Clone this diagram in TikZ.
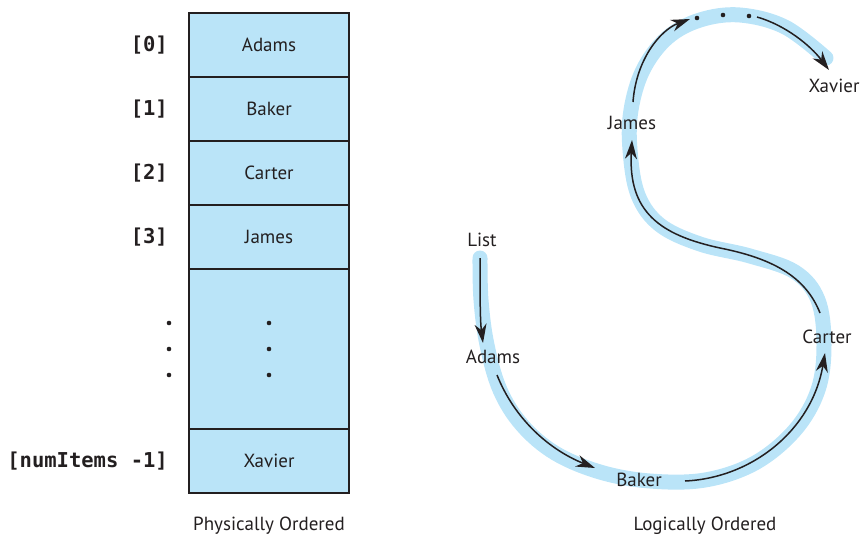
\documentclass[tikz,border=0pt]{standalone}
\usepackage{fontspec}
\setmainfont{PT Sans}
\newfontfamily\idxfont{DejaVu Sans Mono}
\usetikzlibrary{arrows.meta,calc}
\definecolor{cellblue}{RGB}{186,228,248}
\definecolor{ink}{RGB}{35,31,32}
\tikzset{
  cell/.style={draw=ink, fill=cellblue, line width=1.4pt, minimum width=160pt,
    inner sep=0pt, outer sep=0pt, font=\fontsize{19}{22}\selectfont, text=ink},
  idx/.style={anchor=east, inner sep=0pt, text=ink,
    font=\idxfont\bfseries\fontsize{20.5}{22}\selectfont},
  lbl/.style={inner sep=0pt, text=ink, font=\fontsize{19}{22}\selectfont},
  caption/.style={inner sep=0pt, text=ink, font=\fontsize{19}{22}\selectfont},
  dot/.style={circle, fill=ink, inner sep=0pt, minimum size=4.6pt},
  band/.style={draw=cellblue, line width=15pt, line cap=round, line join=round},
  link/.style={draw=ink, line width=1.5pt, -{Stealth[length=19pt, width=12pt, inset=6pt]}},
}
\begin{document}
\begin{tikzpicture}[x=1pt, y=-1pt]
\useasboundingbox (0,0) rectangle (865,539);

% ---- array stored in consecutive cells ----
\node[cell, minimum height=64pt]  (c0) at (269,45)  {Adams};
\node[cell, minimum height=64pt]  (c1) at (269,109) {Baker};
\node[cell, minimum height=64pt]  (c2) at (269,173) {Carter};
\node[cell, minimum height=64pt]  (c3) at (269,237) {James};
\node[cell, minimum height=160pt] (cg) at (269,349) {};
\node[cell, minimum height=64pt]  (cn) at (269,461) {Xavier};

\node[idx] (i0) at (168,45)  {[0]};
\node[idx] (i1) at (168,109) {[1]};
\node[idx] (i2) at (168,173) {[2]};
\node[idx] (i3) at (168,237) {[3]};
\node[idx] (in) at (168,461) {[numItems -1]};

\foreach \y [count=\k] in {323,349,375} {
  \node[dot] (ld\k) at (169,\y) {};
  \node[dot] (md\k) at (269,\y) {};
}

\node[caption] (physcap) at (269,526) {Physically Ordered};

% ---- linked chain ----
\draw[band] plot[smooth, tension=0.6] coordinates {
  (480,258) (481,300) (487,345) (500,390) (522,425) (555,453) (600,472)
  (650,481) (705,480) (755,463) (795,430) (818,390) (824,345) (818,300)
  (795,272) (750,256) (700,244) (660,225) (638,195) (630,150) (631,110)
  (643,70) (667,38) (700,20) (740,15) (785,27) (826,58)};

\node[lbl] (list)   at (482,240) {List};
\node[lbl] (adams)  at (493,357) {Adams};
\node[lbl] (baker)  at (639,480) {Baker};
\node[lbl] (carter) at (827,337) {Carter};
\node[lbl] (james)  at (632,123) {James};
\node[lbl] (xavier) at (834,86)  {Xavier};
\node[dot] (d1) at (697,18) {};
\node[dot] (d2) at (723,15) {};
\node[dot] (d3) at (749,16) {};

\draw[link] ($(list)+(-2,18)$) .. controls (480,290) and (480,320) .. ($(adams)+(-10,-14)$);
\draw[link] ($(adams)+(4,18)$) .. controls (515,420) and (550,450) .. ($(baker)+(-44,-12)$);
\draw[link] ($(baker)+(46,1)$) .. controls (752,478) and (812,430) .. ($(carter)+(-2,16)$);
\draw[link] ($(carter)+(-7,-24)$) .. controls (805,275) and (770,258) .. (720,248)
            .. controls (660,235) and (628,212) .. ($(james)+(0,17)$);
\draw[link] ($(james)+(1,-21)$) .. controls (636,60) and (660,30) .. ($(d1)+(-7,1)$);
\draw[link] ($(d3)+(8,1)$) .. controls (785,25) and (810,45) .. ($(xavier)+(-5,-16)$);

\node[caption] (logcap) at (705,526) {Logically Ordered};
\end{tikzpicture}
\end{document}
